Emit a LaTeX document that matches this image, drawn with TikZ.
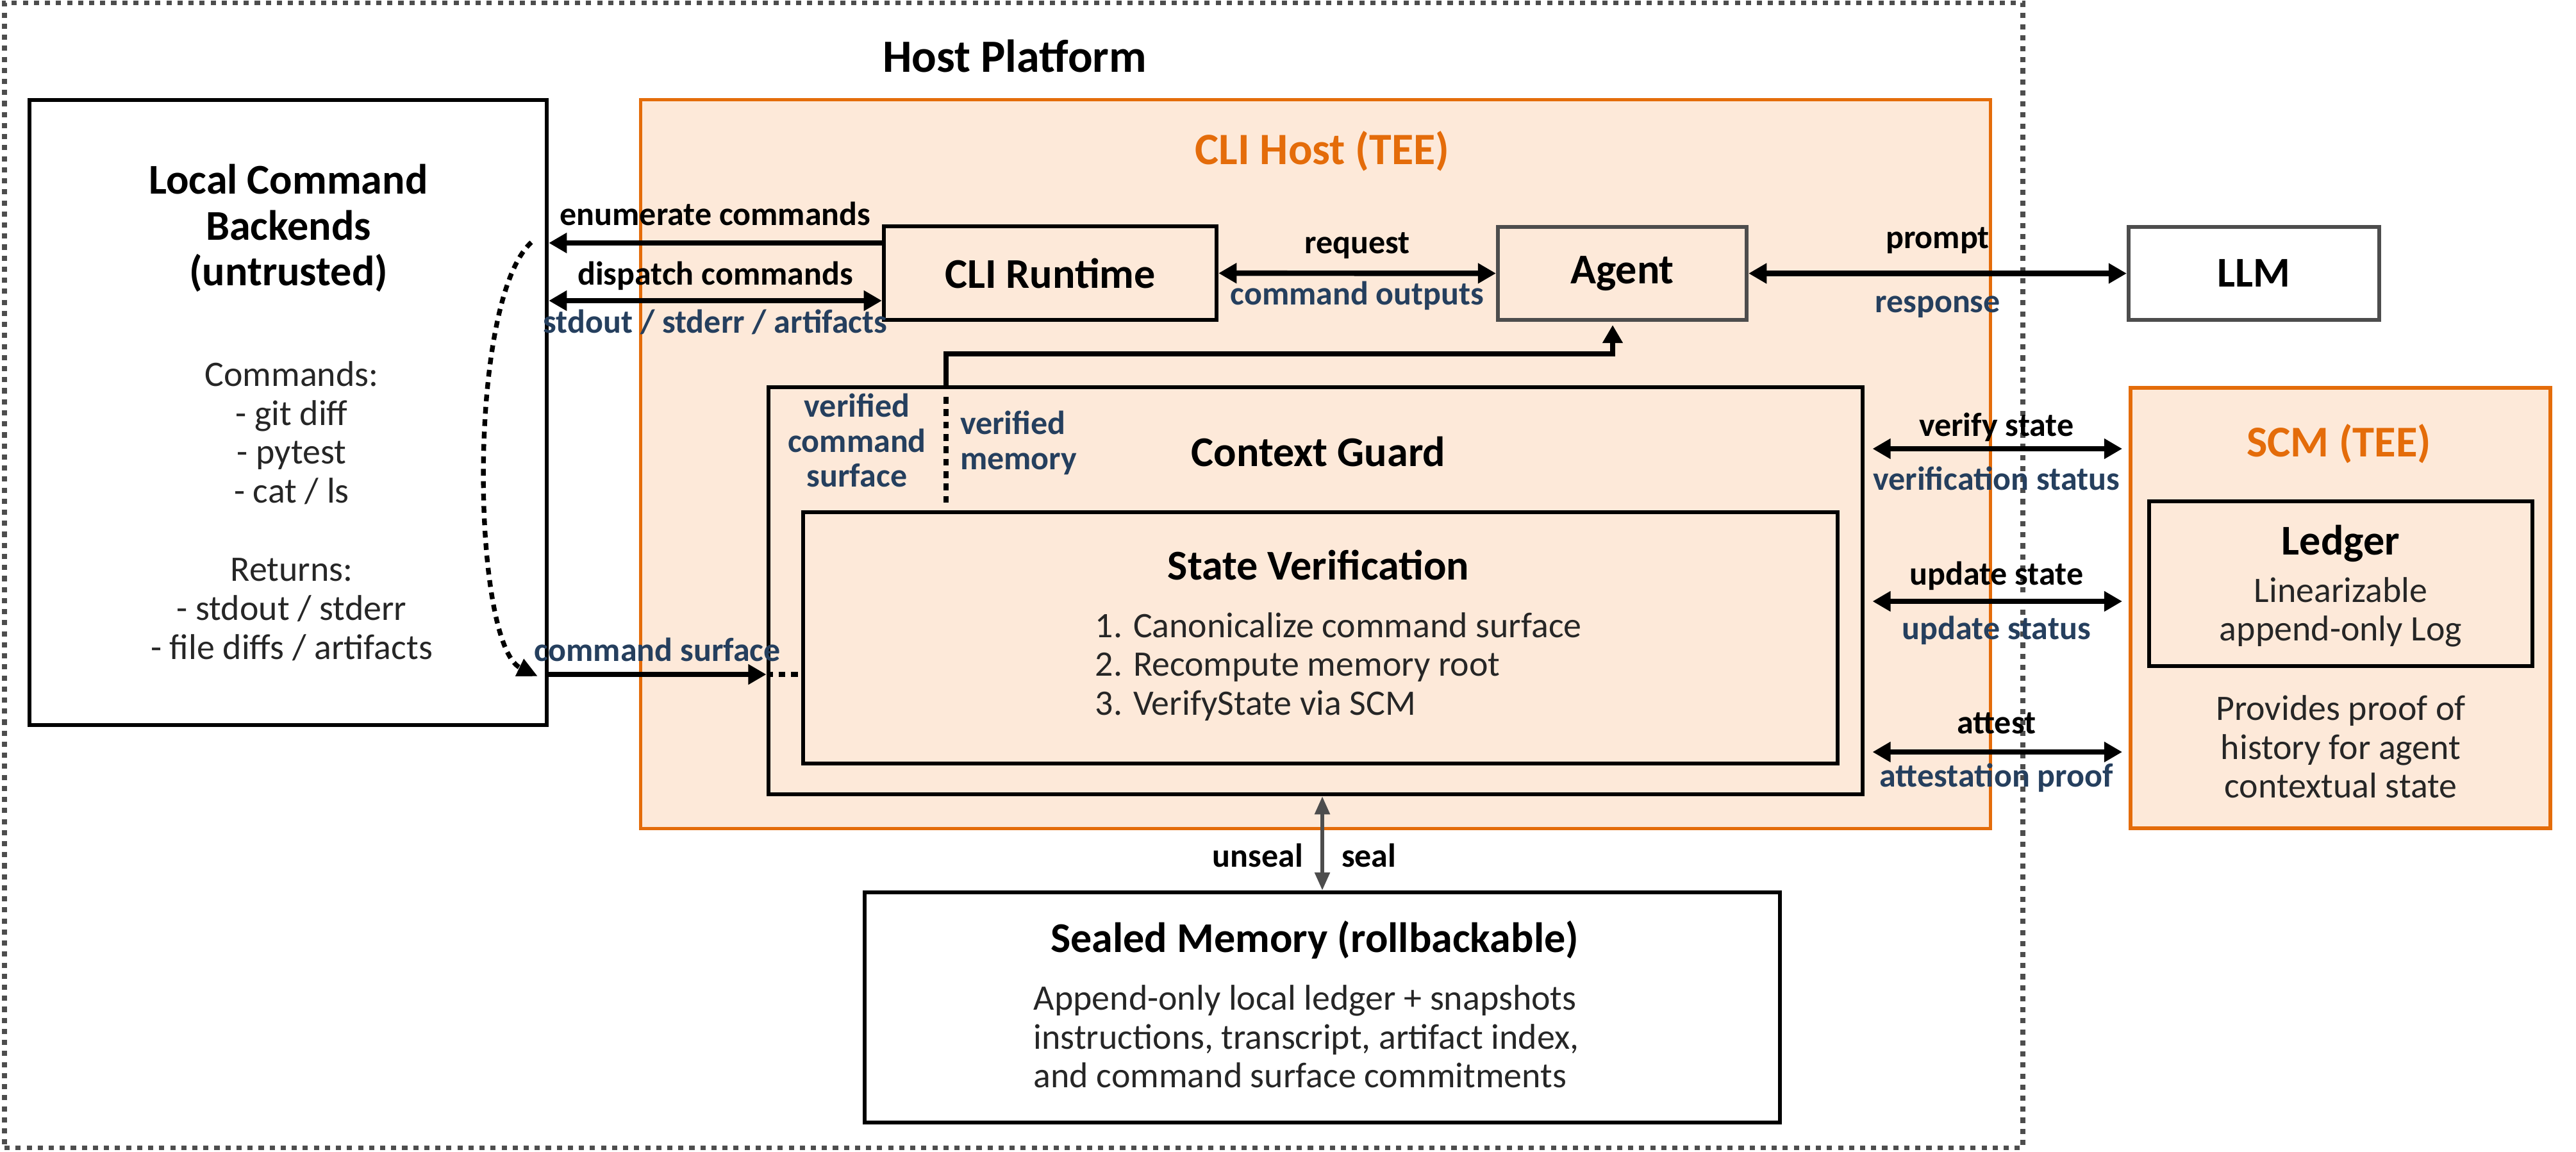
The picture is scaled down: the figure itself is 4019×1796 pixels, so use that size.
\documentclass[tikz,border=0pt]{standalone}
\usepackage{fontspec}
\setmainfont{Carlito}
\usetikzlibrary{arrows.meta,positioning,calc}
\definecolor{TeeOrange}{RGB}{228,108,10}
\definecolor{TeeFill}{HTML}{FDE9D9}
\definecolor{ReplyBlue}{HTML}{253F5E}
\definecolor{FrameGray}{HTML}{4D4D4D}
\definecolor{BodyGray}{HTML}{262626}

\begin{document}
\begin{tikzpicture}[x=0.01cm,y=-0.01cm,
    >={Triangle[length=8pt,width=8.6pt]},
    zone/.style={draw=TeeOrange,fill=TeeFill,line width=1.6pt,inner sep=0pt},
    block/.style={draw=black,line width=1.7pt,inner sep=0pt},
    title/.style={font=\fontsize{18.8}{20.3}\selectfont\bfseries,align=center,inner sep=0pt},
    body/.style={font=\fontsize{15.9}{17.2}\selectfont,text=BodyGray,inner sep=0pt},
    lab/.style={font=\fontsize{14.8}{15.6}\selectfont\bfseries,inner sep=0pt,outer sep=0pt},
    action/.style={lab,text height=0.7em,text depth=0.2em},
    reply/.style={action,text=ReplyBlue},
    flow/.style={line width=2.4pt},
    sealflow/.style={draw=FrameGray,line width=1.7pt,
      {Triangle[length=8pt,width=6.5pt]}-{Triangle[length=8pt,width=6.5pt]}},
    dotline/.style={line width=2.1pt,dash pattern=on 3pt off 2.5pt}
  ]
  \useasboundingbox (0,0) rectangle (4019,1796);

  % host platform
  \node[draw=FrameGray,line width=2.2pt,dash pattern=on 2.3pt off 2.6pt,
    minimum width=31.47cm,minimum height=17.85cm] (host) at (1581.5,897.5) {};
  \node[font=\fontsize{20.5}{22}\selectfont\bfseries] (hosttitle) at (1583,87) {Host Platform};

  % CLI host enclave
  \node[zone,minimum width=21.05cm,minimum height=11.36cm] (clihost) at (2052.5,724) {};
  \node[font=\fontsize{19.9}{21}\selectfont\bfseries,text=TeeOrange] (clititle) at (2063,236) {CLI Host (TEE)};

  % untrusted backends
  \node[block,fill=white,minimum width=8.07cm,minimum height=9.75cm] (local) at (449.5,643.5) {};
  \node[title] (localtitle) at (450,356) {Local Command\\Backends\\(untrusted)};
  \node[body,align=center,font=\fontsize{15.9}{17.3}\selectfont] (locallist) at (455,797)
    {Commands:\\- git diff\\- pytest\\- cat / ls\\[17.3pt]Returns:\\- stdout / stderr\\- file diffs / artifacts};

  \node[block,fill=TeeFill,title,minimum width=5.19cm,minimum height=1.46cm] (runtime) at (1638.5,426) {CLI Runtime};
  \node[block,draw=FrameGray,fill=TeeFill,title,minimum width=3.88cm,minimum height=1.45cm] (agent) at (2531,426.5) {Agent};
  \node[block,draw=FrameGray,fill=white,title,minimum width=3.91cm,minimum height=1.45cm] (llm) at (3516.5,426.5) {LLM};

  % context guard
  \node[block,fill=TeeFill,minimum width=17.06cm,minimum height=6.35cm] (guard) at (2052,921.5) {};
  \node[title] (guardtitle) at (2057,705) {Context Guard};
  \node[lab,text=ReplyBlue,align=center] (vcs) at (1337,687) {verified\\command\\surface};
  \node[lab,text=ReplyBlue,align=left,anchor=west] (vmem) at (1498,691) {verified\\memory};
  \node[block,fill=TeeFill,minimum width=16.13cm,minimum height=3.92cm] (verif) at (2059.5,995) {};
  \node[title] (veriftitle) at (2057,881) {State Verification};
  \node[body,align=left,anchor=west] (veriflist) at (1708,1040)
    {1. Canonicalize command surface\\2. Recompute memory root\\3. VerifyState via SCM};

  % SCM enclave
  \node[zone,minimum width=6.55cm,minimum height=6.87cm] (scm) at (3651.5,948.5) {};
  \node[font=\fontsize{19.5}{21}\selectfont\bfseries,text=TeeOrange] (scmtitle) at (3649,692) {SCM (TEE)};
  \node[block,fill=TeeFill,minimum width=5.98cm,minimum height=2.57cm] (ledger) at (3652,910.5) {};
  \node[title] (ledgertitle) at (3652,848) {Ledger};
  \node[body,align=center] (ledgertext) at (3652,955) {Linearizable\\append-only Log};
  \node[body,align=center] (scmtext) at (3652,1165) {Provides proof of\\history for agent\\contextual state};

  % sealed memory
  \node[block,fill=white,minimum width=14.28cm,minimum height=3.59cm] (sealed) at (2063,1571.5) {};
  \node[title] (sealedtitle) at (2051,1466) {Sealed Memory (rollbackable)};
  \node[body,align=left,anchor=west] (sealedlist) at (1612,1617)
    {Append-only local ledger + snapshots\\instructions, transcript, artifact index,\\and command surface commitments};

  % runtime <-> backends
  \coordinate (enumR) at ([yshift=4.7mm]runtime.west);
  \coordinate (dispR) at ([yshift=-4.3mm]runtime.west);
  \draw[flow,->] (enumR) -- node[action,above=2mm]{enumerate commands} (enumR -| local.east);
  \draw[flow,<->] (dispR) -- node[action,above=1.7mm]{dispatch commands}
    node[reply,below=2.6mm]{stdout / stderr / artifacts} (dispR -| local.east);

  \draw[flow,<->] (runtime) -- node[action,above=2.4mm]{request}
    node[reply,below=2.5mm]{command outputs} (agent);
  \draw[flow,<->] (agent) -- node[action,above=3.2mm]{prompt}
    node[reply,below=3.6mm]{response} (llm);

  % backends -> guard
  \coordinate (csurf) at (0,1052);
  \coordinate (loopA) at (829,378);
  \coordinate (loopB) at (839,1055);
  \draw[dotline,-{Triangle[length=9pt,width=8pt]}] (loopA) .. controls (728,470) and (736,1005) .. (loopB);
  \draw[flow,->] (local.east |- csurf) -- node[reply,above=1.3mm]{command surface} (guard.west |- csurf);
  \draw[dotline] (guard.west |- csurf) -- (verif.west |- csurf);

  % guard -> agent
  \coordinate (tap) at (1476,604);
  \draw[flow,->] (tap) -- ++(0,-52) -| ([xshift=-1.5mm,yshift=-0.5mm]agent.south);
  \draw[dotline] ([yshift=-1.5mm]tap) -- ([yshift=0.8mm]tap |- verif.north);

  % guard <-> SCM
  \coordinate (yverify) at (0,700);
  \coordinate (yupdate) at (0,938);
  \coordinate (yattest) at (0,1173);
  \draw[flow,<->,shorten <=1.3mm,shorten >=1mm] (guard.east |- yverify)
    -- node[action,above=1.2mm]{verify state}
       node[reply,below=4mm]{verification status} (scm.west |- yverify);
  \draw[flow,<->,shorten <=1.3mm,shorten >=1mm] (guard.east |- yupdate)
    -- node[action,above=1.8mm]{update state}
       node[reply,below=3.5mm]{update status} (scm.west |- yupdate);
  \draw[flow,<->,shorten <=1.3mm,shorten >=1mm] (guard.east |- yattest)
    -- node[action,above=2.1mm]{attest}
       node[reply,below=3mm]{attestation proof} (scm.west |- yattest);

  % guard <-> sealed memory
  \draw[sealflow] (guard.south -| sealed.north) -- node[action,pos=0.69,left=3mm]{unseal}
    node[action,pos=0.69,right=3mm]{seal} (sealed.north);
\end{tikzpicture}
\end{document}
